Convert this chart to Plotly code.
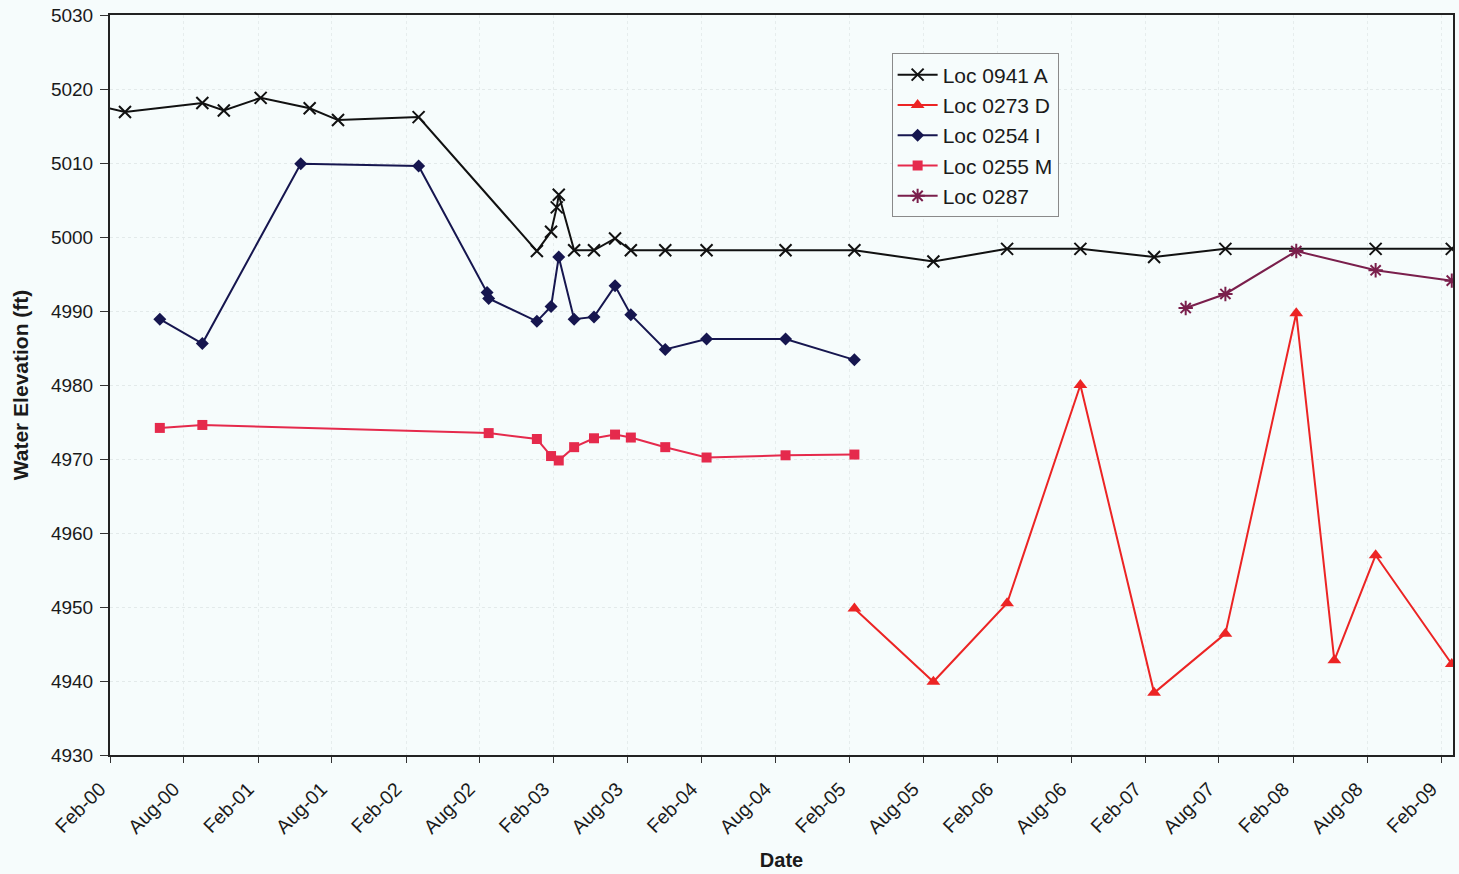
import plotly.graph_objects as go

# Sampling dates and water elevations (ft) for each monitoring location
loc_0941a_dates = [
    "1999-11-20", "2000-03-09", "2000-09-16", "2000-11-08", "2001-02-07", "2001-06-08",
    "2001-08-17", "2002-03-04", "2002-12-21", "2003-01-25", "2003-02-08", "2003-02-13",
    "2003-03-23", "2003-05-11", "2003-07-02", "2003-08-10", "2003-11-03", "2004-02-13",
    "2004-08-26", "2005-02-12", "2005-08-26", "2006-02-24", "2006-08-24", "2007-02-22",
    "2007-08-17", "2008-08-22", "2009-02-26",
]
loc_0941a_elev = [
    5018.3, 5016.9, 5018.1, 5017.1, 5018.8, 5017.4,
    5015.8, 5016.2, 4998.1, 5000.7, 5004.0, 5005.7,
    4998.2, 4998.2, 4999.8, 4998.2, 4998.2, 4998.2,
    4998.2, 4998.2, 4996.7, 4998.4, 4998.4, 4997.3,
    4998.4, 4998.4, 4998.4,
]

loc_0273d_dates = [
    "2005-02-12", "2005-08-26", "2006-02-24", "2006-08-24", "2007-02-22",
    "2007-08-17", "2008-02-08", "2008-05-12", "2008-08-22", "2009-02-26",
]
loc_0273d_elev = [4949.8, 4939.9, 4950.5, 4980.0, 4938.4, 4946.4, 4989.7, 4942.8, 4957.0, 4942.3]

loc_0254i_dates = [
    "2000-06-03", "2000-09-16", "2001-05-17", "2002-03-04", "2002-08-20", "2002-08-24",
    "2002-12-21", "2003-01-25", "2003-02-13", "2003-03-23", "2003-05-11", "2003-07-02",
    "2003-08-10", "2003-11-03", "2004-02-13", "2004-08-26", "2005-02-12",
]
loc_0254i_elev = [
    4988.9, 4985.6, 5009.9, 5009.6, 4992.5, 4991.7,
    4988.6, 4990.6, 4997.3, 4988.9, 4989.2, 4993.4,
    4989.5, 4984.8, 4986.2, 4986.2, 4983.4,
]

loc_0255m_dates = [
    "2000-06-03", "2000-09-16", "2002-08-24", "2002-12-21", "2003-01-25", "2003-02-13",
    "2003-03-23", "2003-05-11", "2003-07-02", "2003-08-10", "2003-11-03", "2004-02-13",
    "2004-08-26", "2005-02-12",
]
loc_0255m_elev = [
    4974.2, 4974.6, 4973.5, 4972.7, 4970.4, 4969.8,
    4971.6, 4972.8, 4973.3, 4972.9, 4971.6, 4970.2,
    4970.5, 4970.6,
]

loc_0287_dates = ["2007-05-11", "2007-08-17", "2008-02-08", "2008-08-22", "2009-02-26"]
loc_0287_elev = [4990.4, 4992.3, 4998.1, 4995.5, 4994.1]

FONT = "Liberation Sans, Arial, sans-serif"
BG = "#f6fcfc"
TXT = "#1a1a1a"

fig = go.Figure()

fig.add_trace(go.Scatter(
    x=loc_0941a_dates, y=loc_0941a_elev, name="Loc 0941 A", mode="lines+markers",
    line=dict(color="#111111", width=2),
    marker=dict(symbol="x-thin", size=12, line=dict(color="#111111", width=2)),
))
fig.add_trace(go.Scatter(
    x=loc_0273d_dates, y=loc_0273d_elev, name="Loc 0273 D", mode="lines+markers",
    line=dict(color="#ec2424", width=2),
    marker=dict(symbol="triangle-up", size=12, color="#ec2424"),
))
fig.add_trace(go.Scatter(
    x=loc_0254i_dates, y=loc_0254i_elev, name="Loc 0254 I", mode="lines+markers",
    line=dict(color="#16164f", width=2),
    marker=dict(symbol="diamond", size=10, color="#16164f"),
))
fig.add_trace(go.Scatter(
    x=loc_0255m_dates, y=loc_0255m_elev, name="Loc 0255 M", mode="lines+markers",
    line=dict(color="#e52a4c", width=2),
    marker=dict(symbol="square", size=10, color="#e52a4c"),
))
fig.add_trace(go.Scatter(
    x=loc_0287_dates, y=loc_0287_elev, name="Loc 0287", mode="lines+markers",
    line=dict(color="#7a1f4c", width=2),
    marker=dict(symbol="asterisk", size=12, line=dict(color="#7a1f4c", width=2)),
))

fig.update_layout(
    width=1459, height=874,
    margin=dict(l=110, r=4, t=15, b=119),
    paper_bgcolor=BG, plot_bgcolor=BG,
    font=dict(family=FONT, size=19, color=TXT),
    showlegend=True,
    legend=dict(
        x=0.582, y=0.948, xanchor="left", yanchor="top",
        bgcolor=BG, bordercolor="#8a8a8a", borderwidth=1,
        font=dict(family=FONT, size=21, color=TXT),
        tracegroupgap=0, itemwidth=40,
    ),
    xaxis=dict(
        type="date",
        range=["2000-02-01", "2009-03-01"],
        tick0="2000-02-01", dtick="M6", tickformat="%b-%y",
        tickangle=-45, ticks="outside", ticklen=6, tickcolor="#333333",
        ticklabelstandoff=7, ticklabelshift=-10,
        showline=True, linecolor="#222222", linewidth=2, mirror=True,
        showgrid=True, gridcolor="#e6eded", griddash="dot", gridwidth=1,
        tickfont=dict(family=FONT, size=19.5, color=TXT),
        title=dict(text="<b>Date</b>", font=dict(family=FONT, size=20, color=TXT), standoff=16),
        zeroline=False,
    ),
    yaxis=dict(
        range=[4930, 5030], dtick=10, tick0=4930,
        ticks="outside", ticklen=8, tickcolor="#333333",
        ticklabelstandoff=3,
        showline=True, linecolor="#222222", linewidth=2, mirror=True,
        showgrid=True, gridcolor="#e3eaea", griddash="dot", gridwidth=1,
        tickfont=dict(family=FONT, size=19, color=TXT),
        title=dict(text="<b>Water Elevation (ft)</b>", font=dict(family=FONT, size=21, color=TXT), standoff=17),
        zeroline=False,
    ),
)

fig.write_html("out.html")
